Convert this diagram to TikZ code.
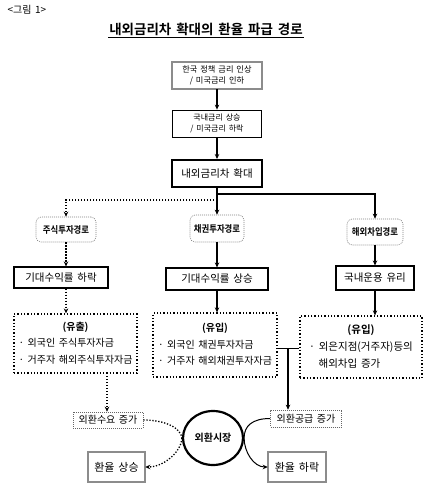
\documentclass[tikz,border=0pt]{standalone}
\usepackage{fontspec}
\setmainfont{Noto Sans CJK KR}[BoldFont={Noto Sans CJK KR Bold},WordSpace=1.6]
\usetikzlibrary{arrows.meta,shapes.geometric}
\tikzset{
  fs/.style={font=\fontsize{#1}{#1}\selectfont},
  fsb/.style={font=\fontsize{#1}{#1}\selectfont\bfseries},
  basebox/.style={draw, inner sep=0pt, align=center},
  dblbox/.style={basebox, draw=black!80, double=black!45, double distance=1.6pt, line width=0.5pt},
  thinbox/.style={basebox, line width=0.8pt},
  thickbox/.style={basebox, line width=2pt},
  midbox/.style={basebox, line width=1.1pt},
  pathlabel/.style={basebox, draw=black!50, rounded corners=5pt, line width=0.6pt, dash pattern=on 1pt off 1pt, font=\fontsize{9.5}{9.5}\selectfont\bfseries},
  dotbox/.style={basebox, line width=1.3pt, dash pattern=on 1.3pt off 2pt},
  fxbox/.style={basebox, draw=black!60, line width=0.6pt, dash pattern=on 1pt off 1pt, font=\fontsize{10}{10}\selectfont},
  tip/.style={-{Stealth[length=5pt,width=4.5pt]}},
  sline/.style={line width=1.2pt},
  dline/.style={line width=1.3pt, dash pattern=on 1.3pt off 1.7pt},
}
\begin{document}
\begin{tikzpicture}[x=1pt,y=-1pt]
\useasboundingbox (0,0) rectangle (434,500);
% header
\node[anchor=west, fs=10] (fig) at (4,10) {<그림 1>};
\node[fsb=13.5, inner sep=1pt] (title) at (206,29) {내외금리차 확대의 환율 파급 경로};
\draw[line width=0.8pt] ([yshift=-1pt]title.south west) -- ([yshift=-1pt]title.south east);
% top chain
\node[dblbox, minimum width=90pt, minimum height=27pt, fs=8.2] (b1) at (217,75.5) {한국 정책 금리 인상\\[3pt]/ 미국금리 인하};
\node[thinbox, minimum width=89pt, minimum height=27pt, fs=8] (b2) at (217,123.5) {국내금리 상승\\[3pt]/ 미국금리 하락};
\node[thickbox, minimum width=90pt, minimum height=27pt, fs=10.5] (b3) at (217,173.5) {내외금리차 확대};
\draw[sline, tip] (b1) -- (b2);
\draw[sline, tip] (b2) -- (b3);
% path labels
\node[pathlabel, minimum width=60pt, minimum height=25pt] (ll) at (66,229.5) {\scalebox{0.88}[1]{주식투자경로}};
\node[pathlabel, minimum width=54pt, minimum height=27pt] (ml) at (217,228.5) {\scalebox{0.88}[1]{채권투자경로}};
\node[pathlabel, minimum width=56pt, minimum height=26pt] (rl) at (375,232) {\scalebox{0.88}[1]{해외차입경로}};
\coordinate (js) at (217,194);
\coordinate (jd) at (217,200);
\draw[sline, tip] (b3) -- (ml);
\draw[sline, tip] (js) -| (rl);
\draw[dline, tip] (jd) -| (ll);
% row 2
\node[midbox, minimum width=94pt, minimum height=21pt, fs=10.5] (r2l) at (61,277.5) {기대수익률 하락};
\node[midbox, minimum width=102pt, minimum height=22pt, fs=10.5] (r2m) at (217,279) {기대수익률 상승};
\node[midbox, minimum width=78pt, minimum height=24pt, fs=10.5] (r2r) at (375,278) {국내운용 유리};
\draw[dline, tip] (ll) -- (ll |- r2l.north);
\draw[sline, tip] (ml) -- (r2m);
\draw[sline, tip] (rl) -- (r2r);
% row 3
\node[dotbox, minimum width=123pt, minimum height=59pt, fs=10] (r3l) at (75.5,343.5) {\renewcommand{\arraystretch}{1.65}\begin{tabular}{@{}l@{}}\multicolumn{1}{c}{\textbf{(유출)}}\\ · 외국인 주식투자자금\\ · 거주자 해외주식투자자금\end{tabular}};
\node[dotbox, minimum width=124pt, minimum height=64pt, fs=10] (r3m) at (215,345) {\renewcommand{\arraystretch}{1.65}\begin{tabular}{@{}l@{}}\multicolumn{1}{c}{\textbf{(유입)}}\\ · 외국인 채권투자자금\\ · 거주자 해외채권투자자금\end{tabular}};
\node[dotbox, minimum width=122pt, minimum height=62pt, fs=10.5] (r3r) at (361,347) {\renewcommand{\arraystretch}{1.6}\begin{tabular}{@{}l@{}}\multicolumn{1}{c}{\textbf{(유입)}}\\ · 외은지점(거주자)등의\\ \hspace{0.9em}해외차입 증가\end{tabular}};
\coordinate (a2l) at (r2l.south -| ll);
\draw[dline, tip] (a2l) -- (a2l |- r3l.north);
\draw[sline, tip] (r2m) -- (r2m |- r3m.north);
\draw[sline, tip] (r2r) -- (r2r |- r3r.north);
% fx nodes
\node[fxbox, minimum width=70pt, minimum height=16pt] (fxd) at (108,420) {외환수요 증가};
\node[fxbox, minimum width=71pt, minimum height=17pt] (fxs) at (306,418.5) {외환공급 증가};
\coordinate (jm) at (288,348);
\draw[line width=1pt] (r3m.east |- jm) -- (r3r.west |- jm);
\draw[sline, tip] (jm) -- (jm |- fxs.north);
\coordinate (ld) at (107,373);
\draw[dline, tip] (ld) -- (ld |- fxd.north);
% market
\node[draw, ellipse, line width=2.2pt, minimum width=60pt, minimum height=54pt, inner sep=0pt, fsb=10] (mk) at (213,438) {외환시장};
\node[dblbox, minimum width=57pt, minimum height=30pt, fs=11] (up) at (116.5,467) {환율 상승};
\node[dblbox, minimum width=58pt, minimum height=30pt, fs=11] (dn) at (297,467) {환율 하락};
\draw[dline] (fxd.east) .. controls +(22,0) and +(-1,-10) .. (mk.west);
\draw[dline, tip] (mk.west) .. controls +(0,12) and +(20,0) .. (up.east);
\draw[line width=1pt] (fxs.west) .. controls +(-18,0) and +(0,-12) .. (mk.east);
\draw[line width=1pt, tip] (mk.east) .. controls +(0,14) and +(-14,0) .. (dn.west);
\end{tikzpicture}
\end{document}
